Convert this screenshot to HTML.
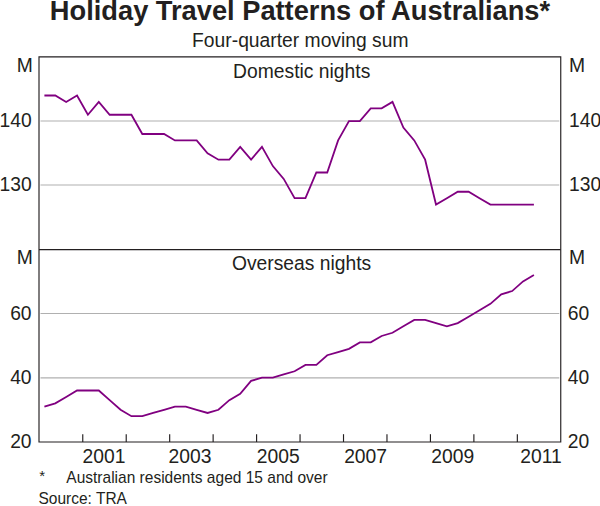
<!DOCTYPE html>
<html><head><meta charset="utf-8"><title>Holiday Travel Patterns of Australians</title>
<style>html,body{margin:0;padding:0;background:#fff;overflow:hidden;}svg{display:block;}</style>
</head><body>
<svg width="600" height="506" viewBox="0 0 600 506">
<rect width="600" height="506" fill="#fff"/>
<line x1="40.5" y1="121.00" x2="559.25" y2="121.00" stroke="#b0b0b0" stroke-width="1.2"/>
<line x1="40.5" y1="185.00" x2="559.25" y2="185.00" stroke="#b0b0b0" stroke-width="1.2"/>
<line x1="40.5" y1="313.50" x2="559.25" y2="313.50" stroke="#b0b0b0" stroke-width="1.2"/>
<line x1="40.5" y1="377.80" x2="559.25" y2="377.80" stroke="#b0b0b0" stroke-width="1.2"/>
<polyline points="44.40,95.50 55.28,95.50 66.16,101.92 77.03,95.50 87.91,114.75 98.79,101.92 109.67,114.75 120.55,114.75 131.42,114.75 142.30,134.00 153.18,134.00 164.06,134.00 174.94,140.42 185.81,140.42 196.69,140.42 207.57,153.25 218.45,159.67 229.33,159.67 240.20,146.83 251.08,159.67 261.96,146.83 272.84,166.08 283.72,178.92 294.59,198.17 305.47,198.17 316.35,172.50 327.23,172.50 338.11,140.42 348.98,121.17 359.86,121.17 370.74,108.33 381.62,108.33 392.50,101.92 403.37,127.58 414.25,140.42 425.13,159.67 436.01,204.58 446.89,198.17 457.76,191.75 468.64,191.75 479.52,198.17 490.40,204.58 501.28,204.58 512.15,204.58 523.03,204.58 533.91,204.58" fill="none" stroke="#800080" stroke-width="1.8" stroke-linejoin="miter"/>
<polyline points="44.40,406.56 55.28,403.35 66.16,396.93 77.03,390.52 87.91,390.52 98.79,390.52 109.67,400.14 120.55,409.77 131.42,416.18 142.30,416.18 153.18,412.98 164.06,409.77 174.94,406.56 185.81,406.56 196.69,409.77 207.57,412.98 218.45,409.77 229.33,400.14 240.20,393.73 251.08,380.89 261.96,377.68 272.84,377.68 283.72,374.48 294.59,371.27 305.47,364.85 316.35,364.85 327.23,355.23 338.11,352.02 348.98,348.81 359.86,342.39 370.74,342.39 381.62,335.98 392.50,332.77 403.37,326.35 414.25,319.93 425.13,319.93 436.01,323.14 446.89,326.35 457.76,323.14 468.64,316.73 479.52,310.31 490.40,303.89 501.28,294.27 512.15,291.06 523.03,281.43 533.91,275.02" fill="none" stroke="#800080" stroke-width="1.8" stroke-linejoin="miter"/>
<path d="M39.0 56.85H560.75V442.0H39.0Z" fill="none" stroke="#231f20" stroke-width="1.15"/>
<line x1="39.0" y1="249.55" x2="560.75" y2="249.55" stroke="#231f20" stroke-width="1.3"/>
<line x1="82.76" y1="434.2" x2="82.76" y2="442.0" stroke="#231f20" stroke-width="1.15"/>
<line x1="126.22" y1="434.2" x2="126.22" y2="442.0" stroke="#231f20" stroke-width="1.15"/>
<line x1="169.68" y1="434.2" x2="169.68" y2="442.0" stroke="#231f20" stroke-width="1.15"/>
<line x1="213.13" y1="434.2" x2="213.13" y2="442.0" stroke="#231f20" stroke-width="1.15"/>
<line x1="256.59" y1="434.2" x2="256.59" y2="442.0" stroke="#231f20" stroke-width="1.15"/>
<line x1="300.05" y1="434.2" x2="300.05" y2="442.0" stroke="#231f20" stroke-width="1.15"/>
<line x1="343.51" y1="434.2" x2="343.51" y2="442.0" stroke="#231f20" stroke-width="1.15"/>
<line x1="386.97" y1="434.2" x2="386.97" y2="442.0" stroke="#231f20" stroke-width="1.15"/>
<line x1="430.43" y1="434.2" x2="430.43" y2="442.0" stroke="#231f20" stroke-width="1.15"/>
<line x1="473.88" y1="434.2" x2="473.88" y2="442.0" stroke="#231f20" stroke-width="1.15"/>
<line x1="517.34" y1="434.2" x2="517.34" y2="442.0" stroke="#231f20" stroke-width="1.15"/>
<g font-family='"Liberation Sans", Arial, sans-serif' fill="#231f20">
<text x="300" y="19.5" font-size="27.25" font-weight="bold" text-anchor="middle">Holiday Travel Patterns of Australians*</text>
<text x="300.3" y="46.8" font-size="19.3" text-anchor="middle">Four-quarter moving sum</text>
<text x="301.7" y="78" font-size="19.3" text-anchor="middle">Domestic nights</text>
<text x="301.6" y="269.7" font-size="19.3" text-anchor="middle">Overseas nights</text>
<text x="32.8" y="71.5" font-size="19.3" text-anchor="end">M</text>
<text x="569" y="71.5" font-size="19.3">M</text>
<text x="31.6" y="127.3" font-size="19.3" text-anchor="end">140</text>
<text x="569" y="127.3" font-size="19.3">140</text>
<text x="31.6" y="191.0" font-size="19.3" text-anchor="end">130</text>
<text x="569" y="191.0" font-size="19.3">130</text>
<text x="32.8" y="263.5" font-size="19.3" text-anchor="end">M</text>
<text x="569" y="263.5" font-size="19.3">M</text>
<text x="31.6" y="319.8" font-size="19.3" text-anchor="end">60</text>
<text x="567.8" y="319.8" font-size="19.3">60</text>
<text x="31.6" y="384.0" font-size="19.3" text-anchor="end">40</text>
<text x="567.8" y="384.0" font-size="19.3">40</text>
<text x="31.6" y="448.4" font-size="19.3" text-anchor="end">20</text>
<text x="567.8" y="448.4" font-size="19.3">20</text>
<text x="103.95" y="462.8" font-size="19.3" text-anchor="middle">2001</text>
<text x="189.95" y="462.8" font-size="19.3" text-anchor="middle">2003</text>
<text x="278.20" y="462.8" font-size="19.3" text-anchor="middle">2005</text>
<text x="365.60" y="462.8" font-size="19.3" text-anchor="middle">2007</text>
<text x="452.70" y="462.8" font-size="19.3" text-anchor="middle">2009</text>
<text x="540.95" y="462.8" font-size="19.3" text-anchor="middle">2011</text>
<text x="39.2" y="480.7" font-size="15">*</text>
<g transform="translate(66.3,482.6) scale(0.958,1)"><text x="0" y="0" font-size="16.2">Australian residents aged 15 and over</text></g>
<g transform="translate(38.4,503.9) scale(0.958,1)"><text x="0" y="0" font-size="16.2">Source: TRA</text></g>
</g></svg>
</body></html>
